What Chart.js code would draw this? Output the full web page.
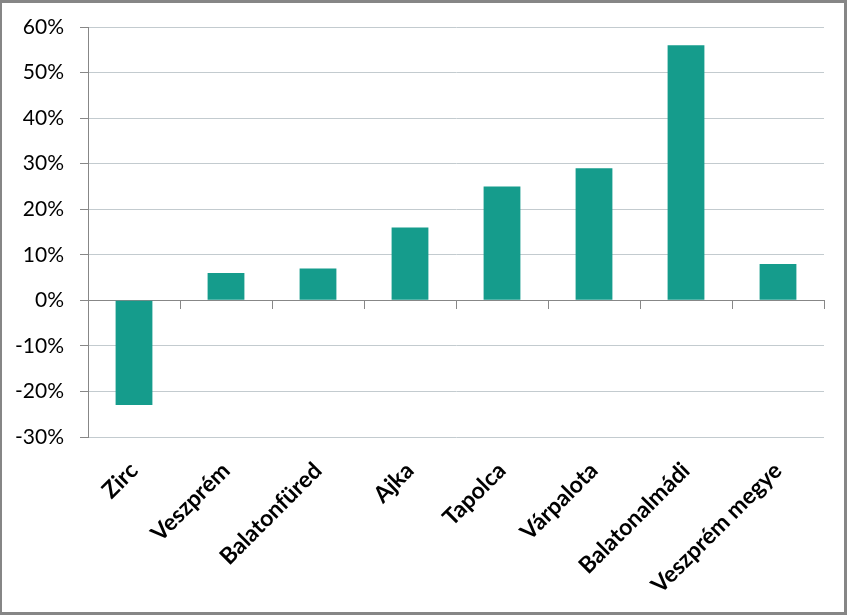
<!DOCTYPE html>
<html>
<head>
<meta charset="utf-8">
<script src="https://cdn.jsdelivr.net/npm/chart.js@4"></script>
<style>
  body { margin: 0; background: #fff; }
  #wrap { width: 847px; height: 615px; box-sizing: border-box; border: 3px solid #868686; border-left-width: 2px; }
</style>
</head>
<body>
<div id="wrap"><canvas id="myChart"></canvas></div>
<script>
const towns = ['Zirc', 'Veszprém', 'Balatonfüred', 'Ajka', 'Tapolca', 'Várpalota', 'Balatonalmádi', 'Veszprém megye'];
const change = [-23, 6, 7, 16, 25, 29, 56, 8];
const yTicks = [-30, -20, -10, 0, 10, 20, 30, 40, 50, 60];

const ctx = document.getElementById('myChart').getContext('2d');
const chart = new Chart(ctx, {
    type: 'bar',
    data: {
        labels: towns,
        datasets: [{
            data: change,
            backgroundColor: '#159C8C',
            barPercentage: 0.4,
            categoryPercentage: 1
        }]
    },
    options: {
        responsive: true,
        maintainAspectRatio: false,
        animation: false,
        layout: { padding: { top: 24, right: 20 } },
        plugins: { legend: { display: false }, tooltip: { enabled: false } },
        scales: {
            x: {
                grid: { display: false },
                border: { display: false },
                ticks: {
                    minRotation: 45, maxRotation: 45, padding: 12,
                    color: '#000',
                    font: { family: 'Lato', size: 23, weight: 'bold' }
                },
                afterFit: s => { s.height = 175; }
            },
            // axis line through 0% with small ticks between the categories
            x2: {
                position: { y: 0 },
                offset: true,
                grid: { offset: true, drawOnChartArea: false, tickLength: 8, color: '#878787' },
                border: { color: '#878787' },
                ticks: { display: false },
                afterFit: s => { s.height = 0; }
            },
            y: {
                min: -30, max: 60,
                afterBuildTicks: s => { s.ticks = yTicks.map(v => ({ value: v })); },
                grid: {
                    color: c => c.tick && c.tick.value === 0 ? '#878787' : '#C3CBCF',
                    tickColor: '#878787', tickLength: 8
                },
                border: { color: '#878787' },
                ticks: {
                    color: '#000', padding: 16,
                    font: { family: 'Lato', size: 21 },
                    callback: v => v + '%'
                },
                afterFit: s => { s.width = 86; s.paddingTop = 12; }
            }
        }
    }
});
</script>
</body>
</html>
